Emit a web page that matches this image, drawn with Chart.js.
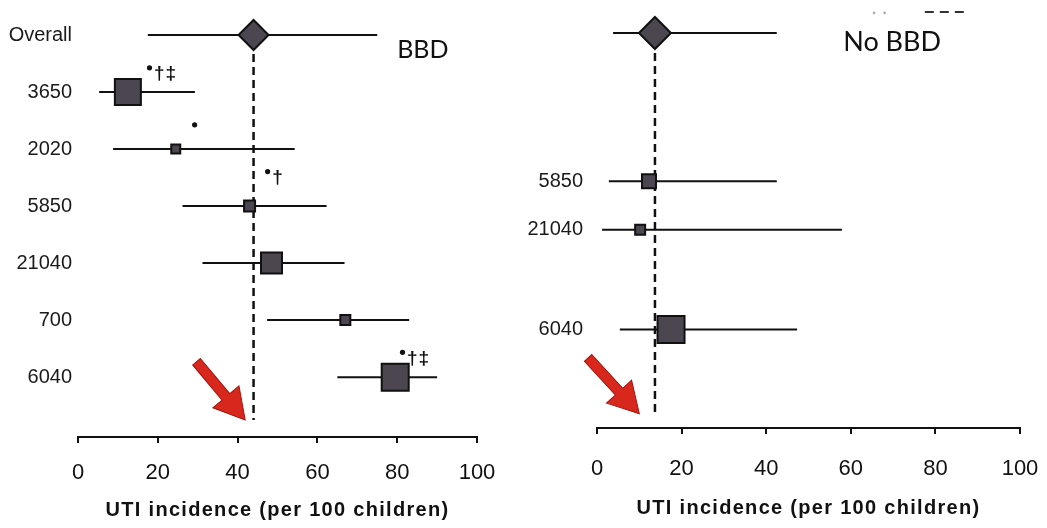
<!DOCTYPE html>
<html>
<head>
<meta charset="utf-8">
<script src="https://cdn.jsdelivr.net/npm/chart.js@4"></script>
<style>
    html, body { margin: 0; padding: 0; background: #fff; }
    #wrap { position: relative; width: 1047px; height: 528px; overflow: hidden; }
    canvas { position: absolute; top: 0; }
</style>
</head>
<body>
<div id="wrap">
    <canvas id="bbd" width="520" height="528" style="left:0"></canvas>
    <canvas id="nobbd" width="527" height="528" style="left:520px"></canvas>
</div>
<script>
// ---- BBD panel ----
const bbdLabels = ["Overall", "3650", "2020", "5850", "21040", "700", "6040"];
const bbdEst    = [44, 12.5, 24.5, 43, 48.5, 67, 79.5];
const bbdLow    = [17.5, 5.3, 8.8, 26.2, 31.2, 47.4, 65];
const bbdHigh   = [75, 29.3, 54.3, 62.3, 66.8, 83, 90];
const bbdMarks  = ["", "•†‡", "•", "•†", "", "", "•†‡"];

// ---- No BBD panel ----
const noLabels = ["Overall", "5850", "21040", "6040"];
const noEst    = [13.7, 12.3, 10.2, 17.5];
const noLow    = [3.8, 2.8, 1.2, 5.4];
const noHigh   = [42.5, 42.5, 57.9, 47.3];

const xTicks = [0, 20, 40, 60, 80, 100];
const xTitle = "UTI incidence (per 100 children)";

// layout (row positions, box sides in px, mark anchors)
const bbdRows  = [0, 1, 2, 3, 4, 5, 6];
const bbdBoxes = [30, 26, 9, 11, 21, 10, 27];
const bbdMarkPos = [null, [17.3, 0.68], [28.6, 1.68], [46.9, 2.5], null, null, [80.7, 5.67]];
const noRows   = [0, 2.6, 3.45, 5.2];
const noBoxes  = [32, 14, 10, 27];

function drawArrow(ctx, x0, y0, x1, y1) {
    const ang = Math.atan2(y1 - y0, x1 - x0);
    const len = Math.hypot(x1 - x0, y1 - y0);
    const headL = 30, headW = 17, shaftW = 5;
    ctx.save();
    ctx.translate(x0, y0);
    ctx.rotate(ang);
    ctx.beginPath();
    ctx.moveTo(0, -shaftW);
    ctx.lineTo(len - headL, -shaftW);
    ctx.lineTo(len - headL, -headW);
    ctx.lineTo(len, 0);
    ctx.lineTo(len - headL, headW);
    ctx.lineTo(len - headL, shaftW);
    ctx.lineTo(0, shaftW);
    ctx.closePath();
    ctx.fillStyle = "#d8271d";
    ctx.fill();
    ctx.strokeStyle = "#a3140c";
    ctx.lineWidth = 1;
    ctx.stroke();
    ctx.restore();
}

function forestPlugin(p) {
    return {
        id: "forest",
        beforeDatasetsDraw(chart) {
            const { ctx, scales: { x, y } } = chart;
            ctx.save();
            ctx.strokeStyle = "#111";
            ctx.lineWidth = 2;
            p.low.forEach((lo, i) => {
                const py = y.getPixelForValue(p.rows[i]);
                ctx.beginPath();
                ctx.moveTo(x.getPixelForValue(lo), py);
                ctx.lineTo(x.getPixelForValue(p.high[i]), py);
                ctx.stroke();
            });
            // dashed line at the overall estimate
            const dx = x.getPixelForValue(p.est[0]);
            ctx.setLineDash([8, 5]);
            ctx.lineWidth = 2.5;
            ctx.beginPath();
            ctx.moveTo(dx, y.getPixelForValue(0) + p.boxes[0] / 2 + 4);
            ctx.lineTo(dx, y.getPixelForValue(p.dashEnd));
            ctx.stroke();
            ctx.restore();
        },
        afterDraw(chart) {
            const { ctx, chartArea, scales: { x, y } } = chart;
            const a = p.arrow;
            drawArrow(ctx, x.getPixelForValue(a[0]), y.getPixelForValue(a[1]),
                      x.getPixelForValue(a[2]), y.getPixelForValue(a[3]));

            ctx.save();
            ctx.fillStyle = "#111";
            ctx.textBaseline = "middle";

            // axis title, letter-spaced
            ctx.font = "bold 20px 'Liberation Sans'";
            ctx.letterSpacing = "1.3px";
            ctx.textAlign = "center";
            ctx.fillText(xTitle, (chartArea.left + chartArea.right) / 2, chart.height - p.titleOff);
            ctx.letterSpacing = "0px";
            ctx.textAlign = "left";

            ctx.font = p.titleFont;
            ctx.fillText(p.title, x.getPixelForValue(p.titlePos[0]), y.getPixelForValue(p.titlePos[1]));

            // significance marks
            (p.marks || []).forEach((m, i) => {
                const pos = p.markPos[i];
                if (!m || !pos) return;
                let px = x.getPixelForValue(pos[0]);
                const py = y.getPixelForValue(pos[1]);
                ctx.font = "bold 19px 'Liberation Sans'";
                for (const ch of m) {
                    if (ch === "•") {
                        ctx.beginPath();
                        ctx.arc(px + 2.5, py - 6, 2.6, 0, Math.PI * 2);
                        ctx.fill();
                        px += 7;
                    } else {
                        ctx.fillText(ch, px, py);
                        px += ctx.measureText(ch).width + 1;
                    }
                }
            });

            // faint scan marks (top right of second panel)
            if (p.scan) {
                const sy = y.getPixelForValue(p.scan[2]);
                ctx.strokeStyle = "#333";
                ctx.lineWidth = 2;
                ctx.setLineDash([9, 6]);
                ctx.beginPath();
                ctx.moveTo(x.getPixelForValue(p.scan[0]), sy);
                ctx.lineTo(x.getPixelForValue(p.scan[1]), sy);
                ctx.stroke();
                ctx.fillStyle = "#aaa";
                [65.5, 68].forEach(v => {
                    ctx.beginPath();
                    ctx.arc(x.getPixelForValue(v), sy + 1, 1.3, 0, Math.PI * 2);
                    ctx.fill();
                });
            }
            ctx.restore();
        }
    };
}

function makePanel(id, p) {
    const styles = p.rows.map((r, i) => i === 0 ? "rectRot" : "rect");
    const radii = p.boxes.map((s, i) => i === 0 ? s / 2 : s / Math.SQRT2);
    new Chart(document.getElementById(id), {
        type: "scatter",
        data: {
            datasets: [{
                data: p.est.map((v, i) => ({ x: v, y: p.rows[i] })),
                pointStyle: styles,
                pointRadius: radii,
                pointHoverRadius: radii,
                backgroundColor: "#4b4650",
                borderColor: "#111",
                borderWidth: 2
            }]
        },
        options: {
            responsive: false,
            animation: false,
            layout: { autoPadding: false, padding: { top: p.padTop, right: p.padRight, left: 0, bottom: 0 } },
            plugins: { legend: { display: false }, tooltip: { enabled: false } },
            scales: {
                x: {
                    type: "linear", min: 0, max: 100,
                    afterBuildTicks: ax => { ax.ticks = xTicks.map(v => ({ value: v })); },
                    ticks: { padding: p.tickPad, color: "#111", font: { family: "Liberation Sans", size: 22 } },
                    grid: { display: true, drawOnChartArea: false, drawTicks: true, tickLength: 6, color: "#111", lineWidth: 2 },
                    border: { display: true, color: "#111", width: 2 },
                    title: { display: false },
                    afterFit: s => { s.height = p.axisH; s.paddingLeft = 0; s.paddingRight = 0; }
                },
                y: {
                    type: "linear", reverse: true, min: -0.5, max: p.yMax,
                    afterBuildTicks: ax => { ax.ticks = p.rows.map(v => ({ value: v })); },
                    ticks: {
                        padding: p.labelPad, color: "#1a1a1a",
                        font: { family: "Liberation Sans", size: 20 },
                        callback: (v, i) => (p.hideFirst && i === 0) ? "" : p.labels[i]
                    },
                    grid: { display: false, drawTicks: false, tickLength: 0 },
                    border: { display: false },
                    afterFit: s => { s.width = p.yW; s.paddingTop = 0; s.paddingBottom = 0; }
                }
            }
        },
        plugins: [forestPlugin(p)]
    });
}

makePanel("bbd", {
    labels: bbdLabels, est: bbdEst, low: bbdLow, high: bbdHigh, rows: bbdRows, boxes: bbdBoxes,
    marks: bbdMarks, markPos: bbdMarkPos,
    yMax: 7.05, padTop: 6.5, padRight: 43, axisH: 91, yW: 78, labelPad: 6, tickPad: 17, titleOff: 18,
    dashEnd: 6.75, arrow: [29.7, 5.73, 41.9, 6.75],
    title: "BBD", titlePos: [80, 0.26], titleFont: "25px Lato"
});

makePanel("nobbd", {
    labels: noLabels, est: noEst, low: noLow, high: noHigh, rows: noRows, boxes: noBoxes,
    hideFirst: true,
    yMax: 6.93, padTop: 4.5, padRight: 27, axisH: 100, yW: 77, labelPad: 14, tickPad: 22, titleOff: 20,
    dashEnd: 6.7, arrow: [-2.1, 5.7, 10.0, 6.68],
    title: "No BBD", titlePos: [58.2, 0.16], titleFont: "27px Lato",
    scan: [77.5, 87.5, -0.37]
});
</script>
</body>
</html>
